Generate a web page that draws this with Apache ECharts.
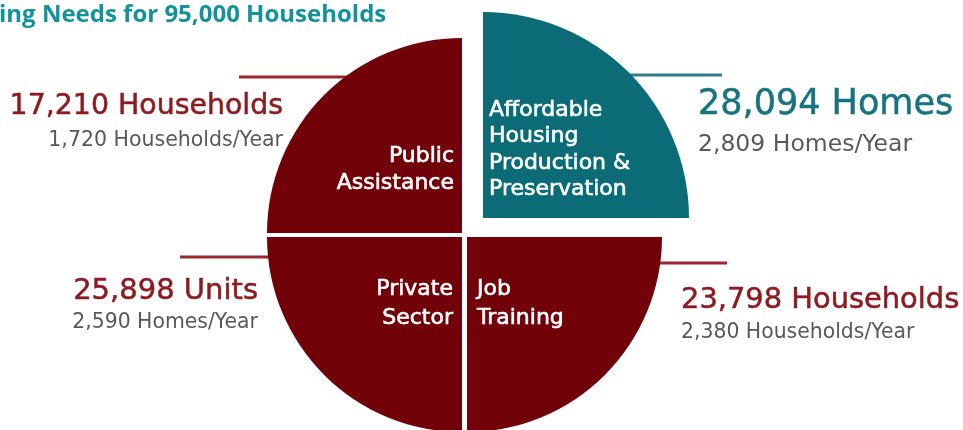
<!DOCTYPE html>
<html>
<head>
<meta charset="utf-8">
<script src="https://cdn.jsdelivr.net/npm/echarts@6/dist/echarts.min.js"></script>
<style>
html,body{margin:0;padding:0;background:#fff;}
#c{width:963px;height:430px;}
</style>
</head>
<body>
<div id="c"></div>
<script>
// ---- data ----
const titleText = 'ing Needs for 95,000 Households';
const categories = ['Public Assistance', 'Affordable Housing Production & Preservation', 'Job Training', 'Private Sector'];
const categoryLines = [['Public', 'Assistance'], ['Affordable', 'Housing', 'Production &', 'Preservation'], ['Job', 'Training'], ['Private', 'Sector']];
const totals = [17210, 28094, 23798, 25898];
const totalUnits = ['Households', 'Homes', 'Households', 'Units'];
const perYear = [1720, 2809, 2380, 2590];
const perYearUnits = ['Households/Year', 'Homes/Year', 'Households/Year', 'Homes/Year'];
const quarterShares = [1, 1, 1, 1]; // each program drawn as an equal quarter

// ---- styles / layout ----
const MAROON = '#72020a';
const TEAL = '#0b6b76';
const fills = [MAROON, TEAL, MAROON, MAROON];
const numColors = ['#8d1a20', '#16737f', '#8d1a20', '#8d1a20'];
const lineColors = ['#9b262c', '#2a7f89', '#9b262c', '#9b262c'];
const GRAY = '#595959';
const FONT = '"DejaVu Sans", sans-serif';
// quadrant geometry: center, radius, start/end angle
const quads = [
  {c: [462, 233], r: 195, s: 180, e: 90},
  {c: [483, 218], r: 206, s: 90, e: 0},
  {c: [467, 237], r: 195, s: 0, e: -90},
  {c: [462, 237], r: 195, s: 270, e: 180}
];
const inner = [
  {x: 454, y: 170, align: 'right', lh: 27},
  {x: 489, y: 150, align: 'left', lh: 26.5},
  {x: 477, y: 304, align: 'left', lh: 28.5},
  {x: 453, y: 304, align: 'right', lh: 28.5}
];
const outer = [
  {x: 283, y1: 107, y2: 141, align: 'right', f1: 28.4, f2: 20.5},
  {x: 698, y1: 105, y2: 145, align: 'left', f1: 35, f2: 23.5},
  {x: 681, y1: 300, y2: 333, align: 'left', f1: 28.9, f2: 20.4},
  {x: 258, y1: 291, y2: 323, align: 'right', f1: 29, f2: 20.4}
];
const leaders = [
  {x1: 239, x2: 347, y: 77},
  {x1: 630, x2: 722, y: 75},
  {x1: 660, x2: 727, y: 263},
  {x1: 180, x2: 269, y: 257}
];

const fmt = v => v.toLocaleString('en-US');

const series = categories.map((name, i) => ({
  type: 'pie',
  silent: true,
  animation: false,
  center: quads[i].c,
  radius: [0, quads[i].r],
  startAngle: quads[i].s,
  endAngle: quads[i].e,
  clockwise: true,
  label: {show: false},
  labelLine: {show: false},
  emphasis: {disabled: true, scale: false},
  itemStyle: {color: fills[i], borderWidth: 0},
  data: [{name: name, value: quarterShares[i]}]
}));

const graphics = [];
graphics.push({
  type: 'text', x: -1, y: 15,
  style: {text: titleText, font: 'bold 24px "Open Sans", sans-serif', fill: '#12929c', verticalAlign: 'middle'}
});
categories.forEach((name, i) => {
  const L = leaders[i];
  graphics.push({
    type: 'line', z: 1,
    shape: {x1: L.x1, y1: L.y, x2: L.x2, y2: L.y},
    style: {stroke: lineColors[i], lineWidth: 3}
  });
  const p = inner[i];
  graphics.push({
    type: 'text', z: 10, x: p.x, y: p.y,
    style: {
      text: categoryLines[i].join('\n'), fill: '#ffffff',
      font: '22px ' + FONT, lineHeight: p.lh,
      stroke: '#ffffff', lineWidth: 0.6,
      align: p.align, verticalAlign: 'middle'
    }
  });
  const o = outer[i];
  graphics.push({
    type: 'text', z: 10, x: o.x, y: o.y1,
    style: {
      text: fmt(totals[i]) + ' ' + totalUnits[i], fill: numColors[i],
      stroke: numColors[i], lineWidth: 0.5,
      font: o.f1 + 'px ' + FONT, align: o.align, verticalAlign: 'middle'
    }
  });
  graphics.push({
    type: 'text', z: 10, x: o.x, y: o.y2,
    style: {
      text: fmt(perYear[i]) + ' ' + perYearUnits[i], fill: GRAY,
      font: o.f2 + 'px ' + FONT, align: o.align, verticalAlign: 'middle'
    }
  });
});

const chart = echarts.init(document.getElementById('c'), null, {renderer: 'canvas'});
chart.setOption({
  backgroundColor: '#ffffff',
  animation: false,
  series: series,
  graphic: {elements: graphics}
});
</script>
</body>
</html>
